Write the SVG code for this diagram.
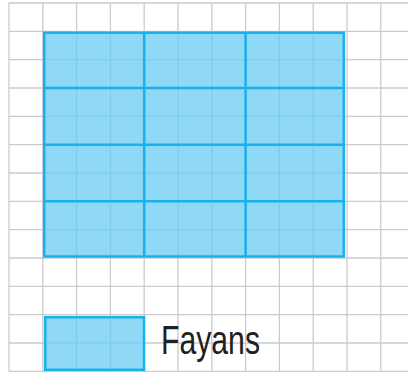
<svg xmlns="http://www.w3.org/2000/svg" width="408" height="373" viewBox="0 0 408 373">
<style>
.grid{stroke:#cbcbcb;stroke-width:1.3;fill:none}
.tile{fill:#8fd8f6;stroke:#19b1ec;stroke-width:2.5}
.div{stroke:#19b1ec;stroke-width:2.5;fill:none}
.faint{stroke:#7cc9e8;stroke-width:1;fill:none}
.lbl{font-family:"Liberation Sans",Arial,sans-serif;font-size:40px;fill:#231f20}
</style>
<rect x="0" y="0" width="408" height="373" fill="#ffffff"/>
<g id="grid">
<path class="grid" d="M9,3V371.3M42.8,3V371.3M76.6,3V371.3M110.4,3V371.3M144.2,3V371.3M178,3V371.3M211.8,3V371.3M245.6,3V371.3M279.4,3V371.3M313.2,3V371.3M347,3V371.3M380.8,3V371.3
M9,3H408M9,31.33H408M9,59.67H408M9,88H408M9,116.33H408M9,144.67H408M9,173H408M9,201.33H408M9,229.67H408M9,258H408M9,286.33H408M9,314.67H408M9,343H408M9,371.33H408"/>
</g>
<g id="floor">
<rect class="tile" x="44.2" y="32.7" width="299.6" height="223.8"/>
<path class="faint" d="M76.6,34V255M110.4,34V255M178,34V255M211.8,34V255M279.4,34V255M313.2,34V255M45.5,59.67H342.5M45.5,116.33H342.5M45.5,173H342.5M45.5,229.67H342.5"/>
<path class="div" d="M144.2,32.7V256.5M245.6,32.7V256.5M44.2,88H343.8M44.2,144.67H343.8M44.2,201.33H343.8"/>
</g>
<g id="legend">
<rect class="tile" x="45.2" y="317.2" width="98.8" height="52.6"/>
<path class="faint" d="M76.6,318.5V368.5M110.4,318.5V368.5M46.5,343H142.5"/>
<text class="lbl" x="161" y="354" textLength="99" lengthAdjust="spacingAndGlyphs">Fayans</text>
</g>
</svg>
